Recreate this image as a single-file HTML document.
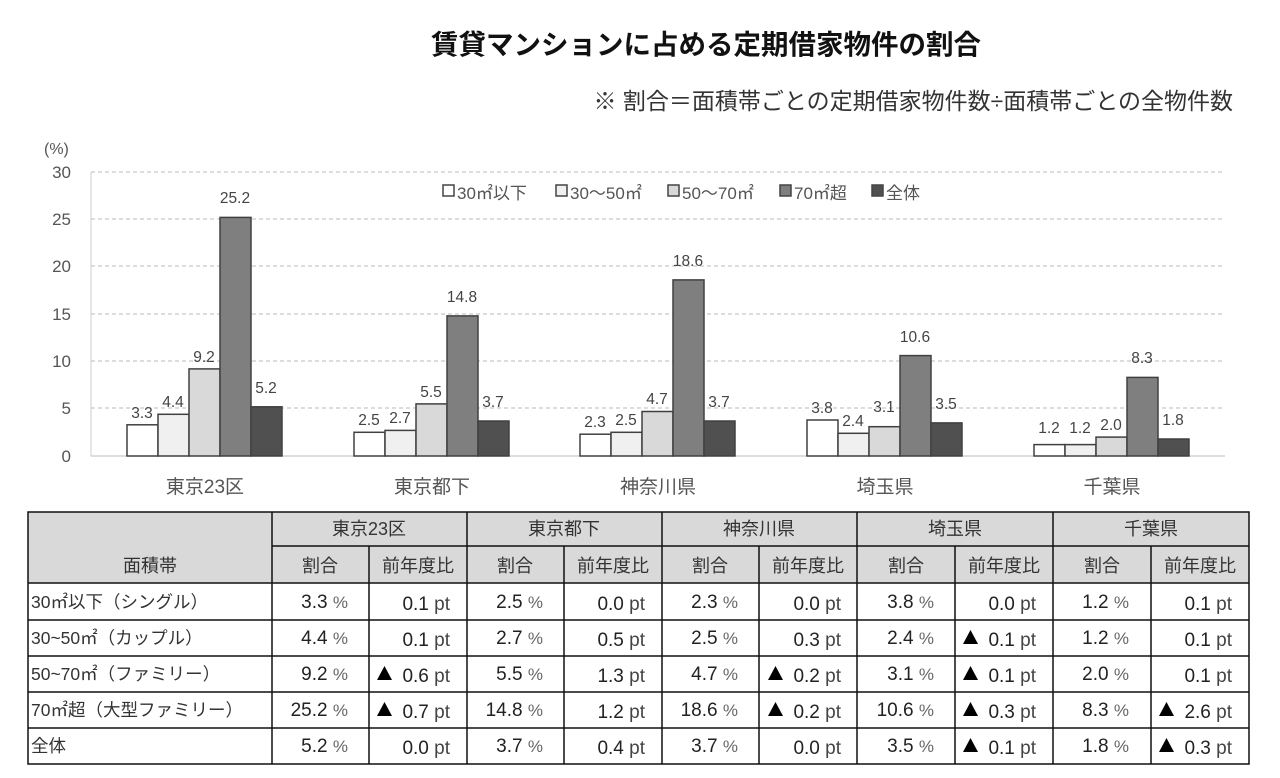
<!DOCTYPE html>
<html><head><meta charset="utf-8"><style>
html,body{margin:0;padding:0;background:#fff;}
svg{display:block;font-family:"Liberation Sans","Noto Sans CJK JP",sans-serif;}
</style></head><body>
<svg width="1280" height="778" viewBox="0 0 1280 778" xmlns="http://www.w3.org/2000/svg">
<defs><polygon id="tri" points="0,0 7.5,-14 15,0" fill="#000"/></defs>
<text x="706" y="54" font-size="27.5" font-weight="bold" text-anchor="middle" fill="#111">賃貸マンションに占める定期借家物件の割合</text>
<text x="1233" y="109" font-size="23" text-anchor="end" fill="#333">※ 割合＝面積帯ごとの定期借家物件数÷面積帯ごとの全物件数</text>

<g stroke="#bbb" stroke-dasharray="4,3" stroke-width="1">
<line x1="91" y1="172" x2="1225" y2="172"/><line x1="91" y1="219" x2="1225" y2="219"/>
<line x1="91" y1="266" x2="1225" y2="266"/><line x1="91" y1="314" x2="1225" y2="314"/>
<line x1="91" y1="361" x2="1225" y2="361"/><line x1="91" y1="408" x2="1225" y2="408"/>
</g>
<line x1="91" y1="172" x2="91" y2="456" stroke="#ccc"/>
<line x1="91" y1="456" x2="1225" y2="456" stroke="#bbb"/>
<g font-size="17" fill="#555" text-anchor="end">
<text x="71" y="178">30</text><text x="71" y="225">25</text><text x="71" y="272">20</text>
<text x="71" y="320">15</text><text x="71" y="367">10</text><text x="71" y="414">5</text><text x="71" y="462">0</text>
</g>
<text x="44" y="154" font-size="16" fill="#555">(%)</text>

<g font-size="17" fill="#555">
<rect x="443" y="185" width="11" height="11" fill="#fff" stroke="#444" stroke-width="1.5"/><text x="457" y="199">30㎡以下</text>
<rect x="556" y="185" width="11" height="11" fill="#f0f0f0" stroke="#444" stroke-width="1.5"/><text x="570" y="199">30〜50㎡</text>
<rect x="668" y="185" width="11" height="11" fill="#d9d9d9" stroke="#444" stroke-width="1.5"/><text x="682" y="199">50〜70㎡</text>
<rect x="780" y="185" width="11" height="11" fill="#7f7f7f" stroke="#444" stroke-width="1.5"/><text x="794" y="199">70㎡超</text>
<rect x="872" y="185" width="11" height="11" fill="#505050" stroke="#444" stroke-width="1.5"/><text x="886" y="199">全体</text>
</g>

<g stroke="#404040" stroke-width="1.5">
<rect x="127" y="424.8" width="31" height="31.2" fill="#fff"/>
<rect x="158" y="414.3" width="31" height="41.7" fill="#f0f0f0"/>
<rect x="189" y="368.9" width="31" height="87.1" fill="#d9d9d9"/>
<rect x="220" y="217.4" width="31" height="238.6" fill="#7f7f7f"/>
<rect x="251" y="406.8" width="31" height="49.2" fill="#505050"/>

<rect x="354" y="432.3" width="31" height="23.7" fill="#fff"/>
<rect x="385" y="430.4" width="31" height="25.6" fill="#f0f0f0"/>
<rect x="416" y="403.9" width="31" height="52.1" fill="#d9d9d9"/>
<rect x="447" y="315.9" width="31" height="140.1" fill="#7f7f7f"/>
<rect x="478" y="421" width="31" height="35" fill="#505050"/>

<rect x="580" y="434.2" width="31" height="21.8" fill="#fff"/>
<rect x="611" y="432.3" width="31" height="23.7" fill="#f0f0f0"/>
<rect x="642" y="411.5" width="31" height="44.5" fill="#d9d9d9"/>
<rect x="673" y="279.9" width="31" height="176.1" fill="#7f7f7f"/>
<rect x="704" y="421" width="31" height="35" fill="#505050"/>

<rect x="807" y="420" width="31" height="36" fill="#fff"/>
<rect x="838" y="433.3" width="31" height="22.7" fill="#f0f0f0"/>
<rect x="869" y="426.7" width="31" height="29.3" fill="#d9d9d9"/>
<rect x="900" y="355.6" width="31" height="100.4" fill="#7f7f7f"/>
<rect x="931" y="422.9" width="31" height="33.1" fill="#505050"/>

<rect x="1034" y="444.6" width="31" height="11.4" fill="#fff"/>
<rect x="1065" y="444.6" width="31" height="11.4" fill="#f0f0f0"/>
<rect x="1096" y="437.1" width="31" height="18.9" fill="#d9d9d9"/>
<rect x="1127" y="377.4" width="31" height="78.6" fill="#7f7f7f"/>
<rect x="1158" y="439" width="31" height="17" fill="#505050"/>
</g>

<g font-size="15.5" fill="#444" text-anchor="middle">
<text x="142" y="418">3.3</text><text x="173" y="407">4.4</text><text x="204" y="362">9.2</text><text x="235" y="203">25.2</text><text x="266" y="393">5.2</text>
<text x="369" y="425">2.5</text><text x="400" y="423">2.7</text><text x="431" y="397">5.5</text><text x="462" y="302">14.8</text><text x="493" y="407">3.7</text>
<text x="595" y="427">2.3</text><text x="626" y="425">2.5</text><text x="657" y="404">4.7</text><text x="688" y="266">18.6</text><text x="719" y="407">3.7</text>
<text x="822" y="413">3.8</text><text x="853" y="426">2.4</text><text x="884" y="412">3.1</text><text x="915" y="342">10.6</text><text x="946" y="409">3.5</text>
<text x="1049" y="433">1.2</text><text x="1080" y="433">1.2</text><text x="1111" y="430">2.0</text><text x="1142" y="363">8.3</text><text x="1173" y="425">1.8</text>
</g>
<g font-size="19" fill="#555" text-anchor="middle">
<text x="205" y="493">東京23区</text><text x="432" y="493">東京都下</text><text x="658" y="493">神奈川県</text><text x="885" y="493">埼玉県</text><text x="1112" y="493">千葉県</text>
</g>

<!-- table -->
<rect x="28" y="512" width="1221" height="71" fill="#d9d9d9"/>
<g stroke="#111" stroke-width="1.5" fill="none">
<rect x="28" y="512" width="1221" height="252"/>
<line x1="272" y1="546" x2="1249" y2="546"/>
<line x1="28" y1="583" x2="1249" y2="583"/>
<line x1="28" y1="620" x2="1249" y2="620"/>
<line x1="28" y1="656" x2="1249" y2="656"/>
<line x1="28" y1="692" x2="1249" y2="692"/>
<line x1="28" y1="728" x2="1249" y2="728"/>
<line x1="272" y1="512" x2="272" y2="764"/>
<line x1="467" y1="512" x2="467" y2="764"/>
<line x1="662" y1="512" x2="662" y2="764"/>
<line x1="857" y1="512" x2="857" y2="764"/>
<line x1="1053" y1="512" x2="1053" y2="764"/>
<line x1="369" y1="546" x2="369" y2="764"/>
<line x1="564" y1="546" x2="564" y2="764"/>
<line x1="759" y1="546" x2="759" y2="764"/>
<line x1="955" y1="546" x2="955" y2="764"/>
<line x1="1151" y1="546" x2="1151" y2="764"/>
</g>
<g font-size="18" fill="#333" text-anchor="middle">
<text x="150" y="572">面積帯</text>
<text x="369" y="535">東京23区</text><text x="564" y="535">東京都下</text><text x="759" y="535">神奈川県</text><text x="955" y="535">埼玉県</text><text x="1151" y="535">千葉県</text>
<text x="320" y="572">割合</text><text x="418" y="572">前年度比</text>
<text x="515" y="572">割合</text><text x="613" y="572">前年度比</text>
<text x="710" y="572">割合</text><text x="808" y="572">前年度比</text>
<text x="906" y="572">割合</text><text x="1004" y="572">前年度比</text>
<text x="1102" y="572">割合</text><text x="1200" y="572">前年度比</text>
</g>
<g font-size="17.5" fill="#333">
<text x="31" y="608">30㎡以下（シングル）</text>
<text x="31" y="644">30~50㎡（カップル）</text>
<text x="31" y="680">50~70㎡（ファミリー）</text>
<text x="31" y="716">70㎡超（大型ファミリー）</text>
<text x="31" y="752">全体</text>
</g>
<g font-size="19" fill="#222" text-anchor="end">
<text x="348" y="608">3.3 <tspan font-size="17" fill="#666">%</tspan></text>
<text x="450" y="610">0.1 <tspan font-size="19" fill="#444">pt</tspan></text>
<text x="543" y="608">2.5 <tspan font-size="17" fill="#666">%</tspan></text>
<text x="645" y="610">0.0 <tspan font-size="19" fill="#444">pt</tspan></text>
<text x="738" y="608">2.3 <tspan font-size="17" fill="#666">%</tspan></text>
<text x="841" y="610">0.0 <tspan font-size="19" fill="#444">pt</tspan></text>
<text x="934" y="608">3.8 <tspan font-size="17" fill="#666">%</tspan></text>
<text x="1036" y="610">0.0 <tspan font-size="19" fill="#444">pt</tspan></text>
<text x="1129" y="608">1.2 <tspan font-size="17" fill="#666">%</tspan></text>
<text x="1232" y="610">0.1 <tspan font-size="19" fill="#444">pt</tspan></text>

<text x="348" y="644">4.4 <tspan font-size="17" fill="#666">%</tspan></text>
<text x="450" y="646">0.1 <tspan font-size="19" fill="#444">pt</tspan></text>
<text x="543" y="644">2.7 <tspan font-size="17" fill="#666">%</tspan></text>
<text x="645" y="646">0.5 <tspan font-size="19" fill="#444">pt</tspan></text>
<text x="738" y="644">2.5 <tspan font-size="17" fill="#666">%</tspan></text>
<text x="841" y="646">0.3 <tspan font-size="19" fill="#444">pt</tspan></text>
<text x="934" y="644">2.4 <tspan font-size="17" fill="#666">%</tspan></text>
<text x="1036" y="646">0.1 <tspan font-size="19" fill="#444">pt</tspan></text>
<text x="1129" y="644">1.2 <tspan font-size="17" fill="#666">%</tspan></text>
<text x="1232" y="646">0.1 <tspan font-size="19" fill="#444">pt</tspan></text>

<text x="348" y="680">9.2 <tspan font-size="17" fill="#666">%</tspan></text>
<text x="450" y="682">0.6 <tspan font-size="19" fill="#444">pt</tspan></text>
<text x="543" y="680">5.5 <tspan font-size="17" fill="#666">%</tspan></text>
<text x="645" y="682">1.3 <tspan font-size="19" fill="#444">pt</tspan></text>
<text x="738" y="680">4.7 <tspan font-size="17" fill="#666">%</tspan></text>
<text x="841" y="682">0.2 <tspan font-size="19" fill="#444">pt</tspan></text>
<text x="934" y="680">3.1 <tspan font-size="17" fill="#666">%</tspan></text>
<text x="1036" y="682">0.1 <tspan font-size="19" fill="#444">pt</tspan></text>
<text x="1129" y="680">2.0 <tspan font-size="17" fill="#666">%</tspan></text>
<text x="1232" y="682">0.1 <tspan font-size="19" fill="#444">pt</tspan></text>

<text x="348" y="716">25.2 <tspan font-size="17" fill="#666">%</tspan></text>
<text x="450" y="718">0.7 <tspan font-size="19" fill="#444">pt</tspan></text>
<text x="543" y="716">14.8 <tspan font-size="17" fill="#666">%</tspan></text>
<text x="645" y="718">1.2 <tspan font-size="19" fill="#444">pt</tspan></text>
<text x="738" y="716">18.6 <tspan font-size="17" fill="#666">%</tspan></text>
<text x="841" y="718">0.2 <tspan font-size="19" fill="#444">pt</tspan></text>
<text x="934" y="716">10.6 <tspan font-size="17" fill="#666">%</tspan></text>
<text x="1036" y="718">0.3 <tspan font-size="19" fill="#444">pt</tspan></text>
<text x="1129" y="716">8.3 <tspan font-size="17" fill="#666">%</tspan></text>
<text x="1232" y="718">2.6 <tspan font-size="19" fill="#444">pt</tspan></text>

<text x="348" y="752">5.2 <tspan font-size="17" fill="#666">%</tspan></text>
<text x="450" y="754">0.0 <tspan font-size="19" fill="#444">pt</tspan></text>
<text x="543" y="752">3.7 <tspan font-size="17" fill="#666">%</tspan></text>
<text x="645" y="754">0.4 <tspan font-size="19" fill="#444">pt</tspan></text>
<text x="738" y="752">3.7 <tspan font-size="17" fill="#666">%</tspan></text>
<text x="841" y="754">0.0 <tspan font-size="19" fill="#444">pt</tspan></text>
<text x="934" y="752">3.5 <tspan font-size="17" fill="#666">%</tspan></text>
<text x="1036" y="754">0.1 <tspan font-size="19" fill="#444">pt</tspan></text>
<text x="1129" y="752">1.8 <tspan font-size="17" fill="#666">%</tspan></text>
<text x="1232" y="754">0.3 <tspan font-size="19" fill="#444">pt</tspan></text>
</g>
<use href="#tri" x="377" y="680"/><use href="#tri" x="377" y="716"/>
<use href="#tri" x="768" y="680"/><use href="#tri" x="768" y="716"/>
<use href="#tri" x="963" y="644"/><use href="#tri" x="963" y="680"/><use href="#tri" x="963" y="716"/><use href="#tri" x="963" y="752"/>
<use href="#tri" x="1159" y="716"/><use href="#tri" x="1159" y="752"/>
</svg>
</body></html>
